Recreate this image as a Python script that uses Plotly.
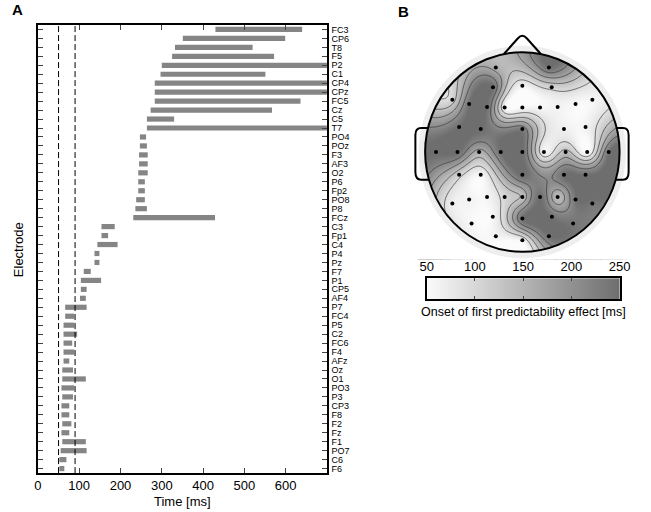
import numpy as np
import plotly.graph_objects as go

# ---------------- data ----------------
electrodes = ["FC3", "CP6", "T8", "F5", "P2", "C1", "CP4", "CPz", "FC5", "Cz", "C5", "T7",
              "PO4", "POz", "F3", "AF3", "O2", "P6", "Fp2", "PO8", "P8", "FCz", "C3", "Fp1",
              "C4", "P4", "Pz", "F7", "P1", "CP5", "AF4", "P7", "FC4", "P5", "C2", "FC6",
              "F4", "AFz", "Oz", "O1", "PO3", "P3", "CP3", "F8", "F2", "Fz", "F1", "PO7",
              "C6", "F6"]
onset = [430, 351, 332, 325, 300, 297, 283, 283, 283, 273, 264, 264,
         247, 247, 245, 245, 243, 243, 243, 238, 236, 231, 154, 154,
         144, 137, 137, 111, 104, 104, 102, 66, 66, 62, 62, 62,
         62, 62, 59, 59, 57, 59, 57, 57, 59, 57, 59, 55,
         52, 52]
offset = [640, 599, 520, 572, 700, 551, 700, 700, 636, 567, 330, 700,
          262, 264, 266, 266, 266, 259, 259, 259, 264, 429, 186, 170,
          193, 149, 149, 128, 153, 118, 116, 118, 88, 88, 95, 83,
          88, 76, 85, 116, 88, 85, 76, 76, 81, 76, 116, 118,
          69, 64]
x_ticks = [0, 100, 200, 300, 400, 500, 600]
ref_lines = [50, 90]
cbar_ticks = [50, 100, 150, 200, 250]

# 2-D electrode montage (azimuthal projection, head radius = 1)
montage = {
    "Fp1": (-0.273, 0.846), "Fp2": (0.273, 0.846),
    "AF3": (-0.302, 0.648), "AFz": (0.0, 0.665), "AF4": (0.302, 0.648),
    "F7": (-0.72, 0.523), "F5": (-0.547, 0.48), "F3": (-0.363, 0.452), "F1": (-0.182, 0.446),
    "Fz": (0.0, 0.446), "F2": (0.182, 0.446), "F4": (0.363, 0.452), "F6": (0.547, 0.48),
    "F8": (0.72, 0.523),
    "FC5": (-0.65, 0.25), "FC3": (-0.428, 0.23), "FCz": (0.0, 0.23), "FC4": (0.428, 0.23),
    "FC6": (0.65, 0.25),
    "T7": (-0.888, 0.0), "C5": (-0.667, 0.0), "C3": (-0.445, 0.0), "C1": (-0.222, 0.0),
    "Cz": (0.0, 0.0), "C2": (0.222, 0.0), "C4": (0.445, 0.0), "C6": (0.667, 0.0),
    "T8": (0.888, 0.0),
    "CP5": (-0.65, -0.227), "CP3": (-0.428, -0.227), "CPz": (0.0, -0.227),
    "CP4": (0.428, -0.227), "CP6": (0.65, -0.227),
    "P7": (-0.72, -0.517), "P5": (-0.547, -0.477), "P3": (-0.363, -0.45), "P1": (-0.182, -0.45),
    "Pz": (0.0, -0.45), "P2": (0.182, -0.45), "P4": (0.363, -0.45), "P6": (0.547, -0.477),
    "P8": (0.72, -0.517),
    "PO7": (-0.522, -0.717), "PO3": (-0.304, -0.65), "POz": (0.0, -0.667),
    "PO4": (0.304, -0.65), "PO8": (0.522, -0.717),
    "O1": (-0.273, -0.844), "Oz": (0.0, -0.884), "O2": (0.273, -0.844),
}

FONT = "Liberation Sans, Arial, Helvetica, sans-serif"
GRAYSCALE = [[0, "#fbfbfb"], [1, "#6e6e6e"]]
W, H = 651, 512


def px_x(p):
    return p / W


def px_y(p):
    return 1 - p / H


fig = go.Figure()

# ---------------- Panel A: onset/offset bars ----------------
fig.add_trace(go.Bar(
    y=electrodes, x=[o - s for s, o in zip(onset, offset)], base=onset,
    orientation="h", width=0.58, marker=dict(color="#858585", line=dict(width=0)),
    xaxis="x", yaxis="y", showlegend=False, hoverinfo="skip"))

for t in ref_lines:
    fig.add_shape(type="line", xref="x", yref="y domain", x0=t, x1=t, y0=0, y1=1,
                  line=dict(color="black", width=1, dash="6px,3px"), layer="above")

# ---------------- Panel B: topographic map ----------------
names = list(montage.keys())
onset_map = dict(zip(electrodes, onset))
ex = np.array([montage[n][0] for n in names])
ey = np.array([montage[n][1] for n in names])
ev = np.clip(np.array([onset_map[n] for n in names], dtype=float), 50, 250)


def green(d):
    with np.errstate(divide="ignore", invalid="ignore"):
        g = d ** 2 * (np.log(d) - 1)
    g[d == 0] = 0.0
    return g


D = np.hypot(ex[:, None] - ex[None, :], ey[:, None] - ey[None, :])
wts = np.linalg.solve(green(D), ev)
gx = np.linspace(-1.08, 1.08, 217)
gy = np.linspace(-1.08, 1.08, 217)
GX, GY = np.meshgrid(gx, gy)
Dg = np.hypot(GX[..., None] - ex, GY[..., None] - ey)
GZ = green(Dg) @ wts

fig.add_trace(go.Contour(
    x=gx, y=gy, z=GZ, xaxis="x2", yaxis="y2",
    colorscale=GRAYSCALE, zmin=50, zmax=250, showscale=False, autocontour=False,
    contours=dict(coloring="heatmap", showlines=True, start=90, end=210, size=40),
    line=dict(color="#3a3a3a", width=0.7, smoothing=1.0), hoverinfo="skip"))

fig.add_trace(go.Scatter(
    x=ex, y=ey, mode="markers", xaxis="x2", yaxis="y2",
    marker=dict(color="black", size=4), showlegend=False, hoverinfo="skip"))


def circle_pts(r, n=360, reverse=False):
    a = np.linspace(0, 2 * np.pi, n, endpoint=False)
    if reverse:
        a = a[::-1]
    return [(r * np.cos(t), r * np.sin(t)) for t in a]


def path_from(pts):
    s = "M {:.4f},{:.4f} ".format(*pts[0])
    s += " ".join("L {:.4f},{:.4f}".format(x, y) for x, y in pts[1:])
    return s + " Z"


XR = [-1.15, 1.15]
YR = [-1.08, 1.22]
rect = [(XR[0], YR[0]), (XR[1], YR[0]), (XR[1], YR[1]), (XR[0], YR[1])]
mask = path_from(rect) + " " + path_from(circle_pts(1.0, reverse=True))
fig.add_shape(type="path", xref="x2", yref="y2", path=mask,
              fillcolor="white", line=dict(width=0), layer="above")
halo = path_from(circle_pts(1.065)) + " " + path_from(circle_pts(1.0, reverse=True))
fig.add_shape(type="path", xref="x2", yref="y2", path=halo,
              fillcolor="#eeeeee", line=dict(width=0), layer="above")
fig.add_shape(type="circle", xref="x2", yref="y2", x0=-1, x1=1, y0=-1, y1=1,
              line=dict(color="black", width=2), layer="above")
left_ear = ("M -0.972,0.24 L -1.04,0.24 Q -1.10,0.24 -1.10,0.17 L -1.10,-0.2 "
            "Q -1.10,-0.277 -1.04,-0.277 L -0.96,-0.277")
right_ear = ("M 0.972,0.24 L 1.035,0.24 Q 1.093,0.24 1.093,0.17 L 1.093,-0.2 "
             "Q 1.093,-0.277 1.035,-0.277 L 0.96,-0.277")
nose = "M -0.19,0.982 L -0.045,1.14 Q 0,1.19 0.045,1.14 L 0.19,0.982"
for p in (left_ear, right_ear, nose):
    fig.add_shape(type="path", xref="x2", yref="y2", path=p,
                  line=dict(color="black", width=2), layer="above")

# ---------------- colour bar (as its own axis) ----------------
cb_x = np.linspace(50, 250, 201)
fig.add_trace(go.Heatmap(
    x=cb_x, y=[0], z=[cb_x], xaxis="x3", yaxis="y3",
    colorscale=GRAYSCALE, zmin=50, zmax=250, showscale=False, hoverinfo="skip"))

# ---------------- layout ----------------
fig.update_layout(
    width=W, height=H, margin=dict(l=0, r=0, t=0, b=0),
    paper_bgcolor="white", plot_bgcolor="white",
    font=dict(family=FONT, color="black", size=12),
    showlegend=False,
    xaxis=dict(domain=[px_x(31.8), px_x(329)], range=[0, 700], tickvals=x_ticks,
               ticks="inside", ticklen=5, tickwidth=1, mirror="ticks", showline=True,
               linecolor="black", linewidth=1.5, showgrid=False, zeroline=False,
               tickfont=dict(size=13)),
    yaxis=dict(domain=[px_y(474), px_y(25)], type="category",
               categoryorder="array", categoryarray=electrodes[::-1],
               tickmode="array", tickvals=electrodes, ticktext=electrodes,
               range=[-0.5, len(electrodes) - 0.5], side="right",
               ticks="inside", ticklen=5, tickwidth=1, mirror="ticks", showline=True,
               linecolor="black", linewidth=1.5, showgrid=False, zeroline=False,
               tickfont=dict(size=9), ticklabelstandoff=1),
    xaxis2=dict(domain=[px_x(415), px_x(645)], range=XR, visible=False),
    yaxis2=dict(domain=[px_y(260.3), px_y(30.3)], range=YR, visible=False),
    xaxis3=dict(domain=[px_x(431.7), px_x(630)], range=[50, 250], side="top",
                tickvals=cbar_ticks, ticks="inside", ticklen=3, tickwidth=1,
                mirror="ticks", showline=True, linecolor="black", linewidth=1.5,
                showgrid=False, zeroline=False, tickfont=dict(size=13), anchor="y3"),
    yaxis3=dict(domain=[px_y(299.7), px_y(278.7)], range=[-0.5, 0.5], showticklabels=False,
                ticks="", showline=True, mirror=True, linecolor="black", linewidth=1.5,
                showgrid=False, zeroline=False, anchor="x3"),
    annotations=[
        dict(text="<b>A</b>", x=px_x(3), y=px_y(10), xref="paper", yref="paper",
             xanchor="left", yanchor="middle", showarrow=False, font=dict(size=15)),
        dict(text="<b>B</b>", x=px_x(400), y=px_y(12), xref="paper", yref="paper",
             xanchor="left", yanchor="middle", showarrow=False, font=dict(size=15)),
        dict(text="Electrode", x=px_x(12), y=px_y(250), xref="paper", yref="paper",
             textangle=-90, xanchor="center", yanchor="middle", showarrow=False,
             font=dict(size=13)),
        dict(text="Time [ms]", x=px_x(180), y=px_y(502), xref="paper", yref="paper",
             xanchor="center", yanchor="middle", showarrow=False, font=dict(size=13)),
        dict(text="Onset of first predictability effect [ms]", x=px_x(531), y=px_y(313),
             xref="paper", yref="paper", xanchor="center", yanchor="middle",
             showarrow=False, font=dict(size=12.5)),
    ],
)

fig.write_html("out.html")
